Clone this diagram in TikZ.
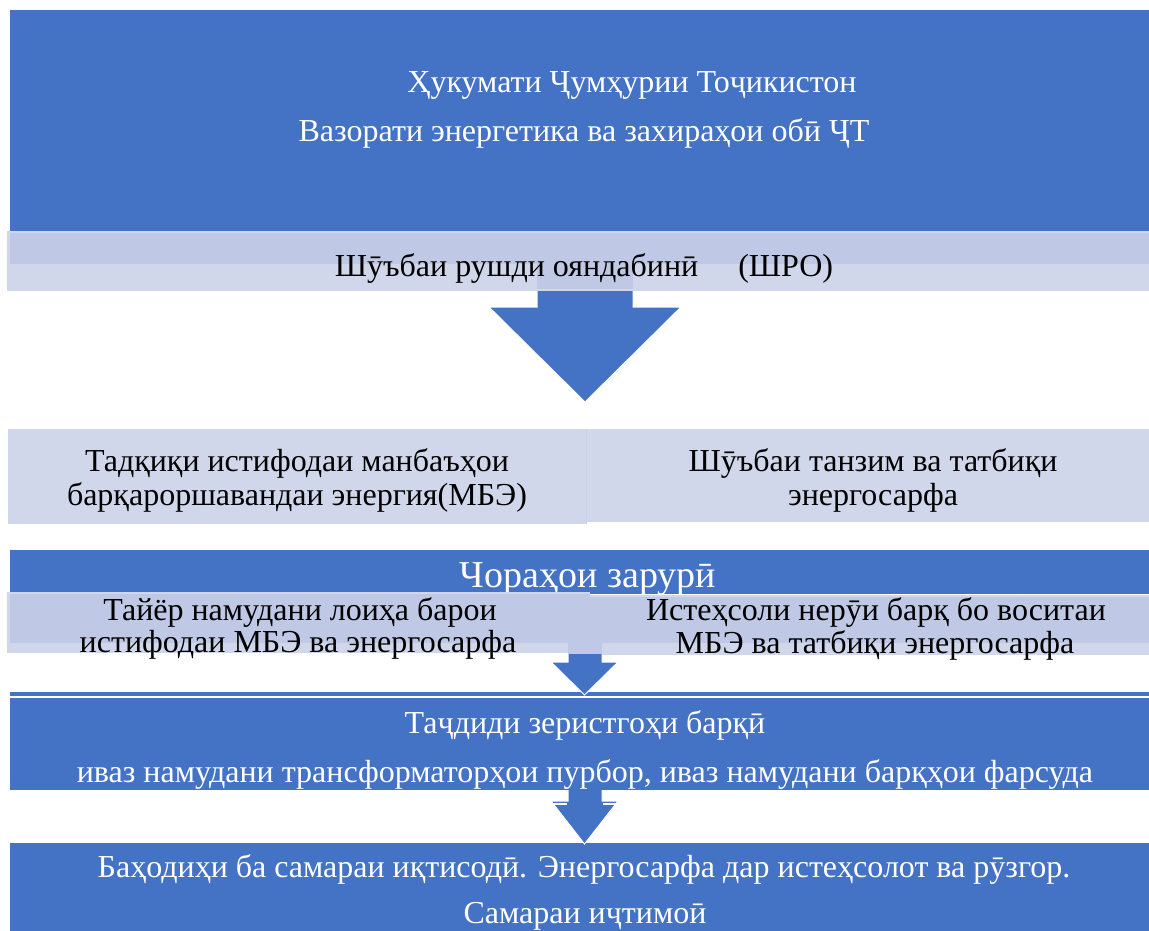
\documentclass[tikz,border=0pt]{standalone}
\usepackage{fontspec}
\setmainfont{Liberation Serif}
\definecolor{blueA}{HTML}{4472C4}
\definecolor{lightA}{HTML}{D0D7EB}
\definecolor{lightB}{HTML}{BFC9E5}
\begin{document}
\begin{tikzpicture}[x=1pt,y=-1pt,
    txt/.style={font=\fontsize{32}{36}\selectfont,anchor=base,inner sep=0pt},
    wtxt/.style={txt,text=white},
    blockarrow/.style={fill=blueA,draw=white,line width=1pt}]
    \useasboundingbox (0,0) rectangle (1149,931);

    \fill[blueA] (10,10) rectangle (1149,231);
    \node[wtxt] (gov) at (632,93) {Ҳукумати Ҷумҳурии Тоҷикистон};
    \node[wtxt] (min) at (584,142) {Вазорати энергетика ва захираҳои обӣ ҶТ};

    \fill[lightA] (7,231) rectangle (1149,291);
    \fill[lightB] (10,233) rectangle (1149,264);
    \fill[lightB] (537,264) rectangle (633,289);
    \node[txt] (shro) at (584,276) {Шӯъбаи рушди ояндабинӣ\hspace{40pt}(ШРО)};

    \draw[blockarrow] (537,291) -- (537,307) -- (489,307) -- (585,402) -- (681,307) -- (633,307) -- (633,291);

    \fill[lightA] (8,429) rectangle (586,524);
    \fill[lightA] (586,429) rectangle (1149,522);
    \draw[lightB!60!lightA] (586,429) -- (586,524);
    \node[txt] (mbeA) at (297,471) {Тадқиқи истифодаи манбаъҳои};
    \node[txt] (mbeB) at (297,505) {барқароршавандаи энергия(МБЭ)};
    \node[txt] (tanzimA) at (873,471) {Шӯъбаи танзим ва татбиқи};
    \node[txt] (tanzimB) at (873,505) {энергосарфа};

    \fill[blueA] (10,550) rectangle (1149,594);
    \node[wtxt,font=\fontsize{38}{40}\selectfont] (chora) at (588,587) {Чораҳои зарурӣ};

    \fill[lightA] (7,592) rectangle (590,653);
    \fill[lightB] (10,594) rectangle (590,643);
    \fill[lightA] (590,595) rectangle (1149,655);
    \fill[lightB] (590,597) rectangle (1149,643);
    \fill[lightB] (568,643) rectangle (602,654);
    \node[txt] (loihaA) at (300,620) {Тайёр намудани лоиҳа барои};
    \node[txt] (loihaB) at (298,652) {истифодаи МБЭ ва энергосарфа};
    \node[txt] (istehsolA) at (876,620) {Истеҳсоли нерӯи барқ бо воситаи};
    \node[txt] (istehsolB) at (875,653) {МБЭ ва татбиқи энергосарфа};

    \fill[blueA] (10,692) rectangle (1149,790);
    \draw[white,line width=2pt] (10,696.5) -- (1149,696.5);
    \draw[blockarrow] (568,654) -- (568,662) -- (551,662) -- (584.5,695) -- (618,662) -- (602,662) -- (602,654);
    \node[wtxt] (tajdid) at (585,733) {Таҷдиди зеристгоҳи барқӣ};
    \node[wtxt] (ivaz) at (585,782) {иваз намудани трансформаторҳои пурбор, иваз намудани барқҳои фарсуда};

    \fill[blueA] (10,843) rectangle (1149,931);
    \draw[blockarrow] (568,790) -- (568,801) -- (551,801) -- (584.5,844) -- (618,801) -- (602,801) -- (602,790);
    \draw[white,line width=2pt] (550,804) -- (567,804) (603,804) -- (619,804);
    \node[wtxt] (bahodihi) at (584,877) {Баҳодиҳи ба самараи иқтисодӣ. Энергосарфа дар истеҳсолот ва рӯзгор.};
    \node[wtxt] (samara) at (585,923) {Самараи иҷтимоӣ};
\end{tikzpicture}
\end{document}
